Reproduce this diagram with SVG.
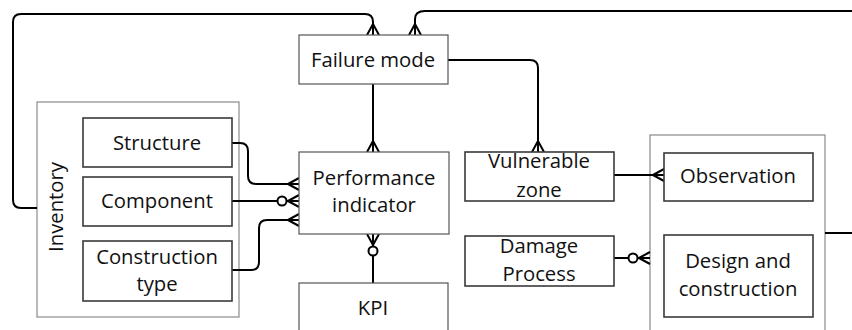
<svg xmlns="http://www.w3.org/2000/svg" width="852" height="330" viewBox="0 0 852 330">
  <style>
    .frame { fill: none; stroke: #8a8a8a; stroke-width: 1.2; }
    .box { fill: #fff; stroke: #555; stroke-width: 1.2; }
    .inner { fill: #fff; stroke: #3a3a3a; stroke-width: 1.6; }
    .lbl { font-family: "Open Sans", "Liberation Sans", sans-serif; font-size: 20.3px; fill: #111; text-anchor: middle; }
    .conn { fill: none; stroke: #000; stroke-width: 2; }
  </style>
  <defs>
    <!-- crow's foot (many) -->
    <marker id="many" viewBox="-14 -8 16 16" refX="0" refY="0" markerWidth="16" markerHeight="16" markerUnits="userSpaceOnUse" orient="auto">
      <path d="M-11 0 L0 -6 M-11 0 L0 0 M-11 0 L0 6" fill="none" stroke="#000" stroke-width="2"/>
    </marker>
    <!-- zero or many -->
    <marker id="zeroMany" viewBox="-24 -8 26 16" refX="0" refY="0" markerWidth="26" markerHeight="16" markerUnits="userSpaceOnUse" orient="auto">
      <path d="M-11 0 L0 -6 M-11 0 L0 0 M-11 0 L0 6" fill="none" stroke="#000" stroke-width="2"/>
      <circle cx="-17" cy="0" r="4.5" fill="#fff" stroke="#000" stroke-width="2"/>
    </marker>
  </defs>

  <!-- containers -->
  <g id="inventory">
    <rect class="frame" x="37" y="102" width="202" height="215"/>
    <text class="lbl" transform="translate(63 207) rotate(-90)">Inventory</text>
  </g>
  <g id="context">
    <rect class="frame" x="650" y="135" width="175" height="210"/>
  </g>

  <!-- connectors -->
  <g id="connectors">
    <path class="conn" d="M37 208 H21 Q13 208 13 200 V22 Q13 14 21 14 H365 Q373 14 373 22 V35" marker-end="url(#many)"/>
    <path class="conn" d="M825 233 H870 V11 H425 Q415 11 415 19 V35" marker-end="url(#many)"/>
    <path class="conn" d="M448 60 H530 Q538 60 538 68 V152" marker-end="url(#many)"/>
    <path class="conn" d="M373 84 V152" marker-end="url(#many)"/>
    <path class="conn" d="M373 283 V234" marker-end="url(#zeroMany)"/>
    <path class="conn" d="M232 143 H240 Q248 143 248 151 V176 Q248 184 256 184 H299" marker-end="url(#many)"/>
    <path class="conn" d="M232 201 H299" marker-end="url(#zeroMany)"/>
    <path class="conn" d="M232 270 H251 Q259 270 259 262 V228 Q259 220 267 220 H299" marker-end="url(#many)"/>
    <path class="conn" d="M614 175 H664" marker-end="url(#many)"/>
    <path class="conn" d="M614 258 H650" marker-end="url(#zeroMany)"/>
  </g>

  <!-- nodes -->
  <g id="failure-mode">
    <rect class="box" x="299" y="35" width="149" height="49"/>
    <text class="lbl" x="373" y="67">Failure mode</text>
  </g>
  <g id="structure">
    <rect class="inner" x="83" y="118" width="149" height="49"/>
    <text class="lbl" x="157" y="150">Structure</text>
  </g>
  <g id="component">
    <rect class="inner" x="83" y="177" width="149" height="49"/>
    <text class="lbl" x="157" y="208">Component</text>
  </g>
  <g id="construction-type">
    <rect class="inner" x="83" y="241" width="149" height="60"/>
    <text class="lbl" x="157" y="264">Construction</text>
    <text class="lbl" x="157" y="291">type</text>
  </g>
  <g id="performance-indicator">
    <rect class="box" x="299" y="152" width="150" height="82"/>
    <text class="lbl" x="374" y="185">Performance</text>
    <text class="lbl" x="374" y="212">indicator</text>
  </g>
  <g id="kpi">
    <rect class="box" x="299" y="283" width="149" height="60"/>
    <text class="lbl" x="373" y="315">KPI</text>
  </g>
  <g id="vulnerable-zone">
    <rect class="inner" x="465" y="152" width="149" height="49"/>
    <text class="lbl" x="539" y="168">Vulnerable</text>
    <text class="lbl" x="539" y="197">zone</text>
  </g>
  <g id="damage-process">
    <rect class="inner" x="465" y="236" width="149" height="50"/>
    <text class="lbl" x="539" y="253">Damage</text>
    <text class="lbl" x="539" y="281">Process</text>
  </g>
  <g id="observation">
    <rect class="inner" x="664" y="153" width="149" height="48"/>
    <text class="lbl" x="738" y="183">Observation</text>
  </g>
  <g id="design-and-construction">
    <rect class="inner" x="664" y="235" width="149" height="82"/>
    <text class="lbl" x="738" y="268">Design and</text>
    <text class="lbl" x="738" y="296">construction</text>
  </g>
</svg>
